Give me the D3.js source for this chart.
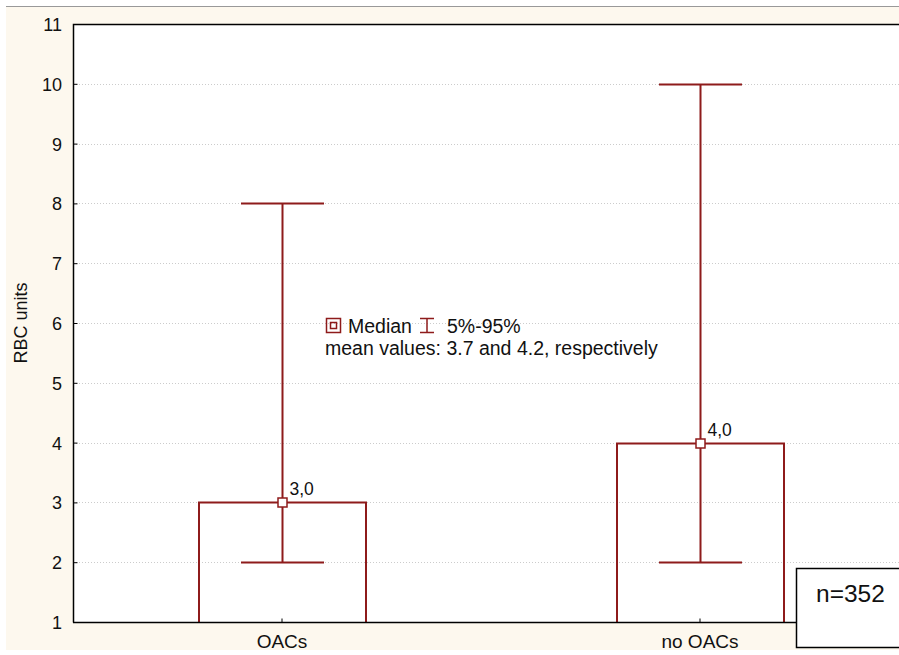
<!DOCTYPE html>
<html>
<head>
<meta charset="utf-8">
<script src="https://cdn.jsdelivr.net/npm/d3@7"></script>
<style>
  body { margin: 0; background: #fff; }
  svg text { font-family: "Liberation Sans", Arial, sans-serif; fill: #111; }
</style>
</head>
<body>
<svg id="chart" width="899" height="655"></svg>
<script>
const categories = ['OACs', 'no OACs'];
const medians = [3.0, 4.0];
const lows = [2, 2];     // 5th percentile
const highs = [8, 10];   // 95th percentile
const yTicks = [1, 2, 3, 4, 5, 6, 7, 8, 9, 10, 11];
const medianLabels = ['3,0', '4,0'];

const red = '#8e1b1b';
const svg = d3.select('#chart');
const W = 899, H = 655;
const mLeft = 73, mTop = 24, mBottom = 622, mRight = 909;

// page background
svg.append('rect').attr('x', 6).attr('y', 6).attr('width', W).attr('height', 644).attr('fill', '#fdf8ee');
svg.append('line').attr('x1', 6).attr('x2', W).attr('y1', 6.5).attr('y2', 6.5).attr('stroke', '#999');
svg.append('rect').attr('x', mLeft).attr('y', mTop).attr('width', mRight - mLeft).attr('height', mBottom - mTop).attr('fill', '#fff');

const y = d3.scaleLinear().domain([1, 11]).range([mBottom, mTop]);
const x = d3.scaleBand().domain(categories).range([mLeft, mRight]).padding(0);
const boxW = 167, capW = 83;

// grid
svg.append('g').selectAll('line').data(yTicks.slice(1, -1)).enter().append('line')
  .attr('x1', mLeft).attr('x2', mRight)
  .attr('y1', d => Math.round(y(d)) + 0.5).attr('y2', d => Math.round(y(d)) + 0.5)
  .attr('stroke', '#ccc').attr('stroke-dasharray', '1,2');

// y axis
const yAxis = svg.append('g').attr('transform', `translate(${mLeft + 0.5},0)`)
  .call(d3.axisRight(y).tickValues(yTicks).tickSize(4).tickFormat(''));
yAxis.select('.domain').remove();
yAxis.selectAll('line').attr('stroke', '#000');
svg.append('g').selectAll('text').data(yTicks).enter().append('text')
  .attr('x', 62).attr('y', d => y(d) + 7).attr('text-anchor', 'end')
  .attr('font-size', 18).text(d => d);

// x axis ticks
const xAxis = svg.append('g').attr('transform', `translate(0,${mBottom + 0.5})`)
  .call(d3.axisTop(x).tickSize(4).tickFormat(''));
xAxis.select('.domain').remove();
xAxis.selectAll('line').attr('stroke', '#000');
svg.append('g').selectAll('text').data(categories).enter().append('text')
  .attr('x', d => x(d) + x.bandwidth() / 2).attr('y', 648).attr('text-anchor', 'middle')
  .attr('font-size', 19).text(d => d);

// boxes and whiskers
const g = svg.append('g');
categories.forEach((c, i) => {
  const cx = Math.round(x(c) + x.bandwidth() / 2) + 0.5;
  const ym = Math.round(y(medians[i])) + 0.5;
  g.append('path')
    .attr('d', `M${cx - boxW / 2},${mBottom}V${ym}H${cx + boxW / 2}V${mBottom}`)
    .attr('fill', 'none').attr('stroke', red).attr('stroke-width', 2);
  const yl = Math.round(y(lows[i])) + 0.5, yh = Math.round(y(highs[i])) + 0.5;
  g.append('line').attr('x1', cx).attr('x2', cx).attr('y1', yh).attr('y2', yl)
    .attr('stroke', red).attr('stroke-width', 2);
  [yl, yh].forEach(yy => g.append('line')
    .attr('x1', cx - capW / 2).attr('x2', cx + capW / 2).attr('y1', yy).attr('y2', yy)
    .attr('stroke', red).attr('stroke-width', 2));
  g.append('rect').attr('x', cx - 4.5).attr('y', ym - 4.5).attr('width', 9).attr('height', 9)
    .attr('fill', '#fff').attr('stroke', red).attr('stroke-width', 1.5);
  g.append('text').attr('x', cx + 7).attr('y', ym - 8).attr('font-size', 17.5).text(medianLabels[i]);
});

// frame
svg.append('path').attr('d', `M${mLeft + 0.5},${mBottom + 0.5}V${mTop + 0.5}H${W}`)
  .attr('fill', 'none').attr('stroke', '#000').attr('stroke-width', 1.5);
svg.append('line').attr('x1', mLeft).attr('x2', W).attr('y1', mBottom + 0.5).attr('y2', mBottom + 0.5)
  .attr('stroke', '#000').attr('stroke-width', 1.5);

// legend
const lg = svg.append('g');
lg.append('rect').attr('x', 326.5).attr('y', 318.5).attr('width', 14).attr('height', 14)
  .attr('fill', 'none').attr('stroke', red).attr('stroke-width', 1.5);
lg.append('rect').attr('x', 330.5).attr('y', 322.5).attr('width', 6).attr('height', 6)
  .attr('fill', 'none').attr('stroke', red).attr('stroke-width', 1.5);
lg.append('text').attr('x', 348).attr('y', 333).attr('font-size', 19.5).text('Median');
lg.append('path').attr('d', 'M420,318.5H434M427,318.5V332.5M420,332.5H434')
  .attr('fill', 'none').attr('stroke', red).attr('stroke-width', 1.5);
lg.append('text').attr('x', 447).attr('y', 333).attr('font-size', 19.5).text('5%-95%');
lg.append('text').attr('x', 325).attr('y', 355).attr('font-size', 19.5)
  .text('mean values: 3.7 and 4.2, respectively');

// y label
svg.append('text').attr('transform', 'translate(27,323) rotate(-90)')
  .attr('text-anchor', 'middle').attr('font-size', 18).text('RBC units');

// n box
svg.append('rect').attr('x', 796.5).attr('y', 568.5).attr('width', 110).attr('height', 79)
  .attr('fill', '#fff').attr('stroke', '#000').attr('stroke-width', 1.5);
svg.append('text').attr('x', 816).attr('y', 602).attr('font-size', 24.5).text('n=352');
</script>
</body>
</html>
